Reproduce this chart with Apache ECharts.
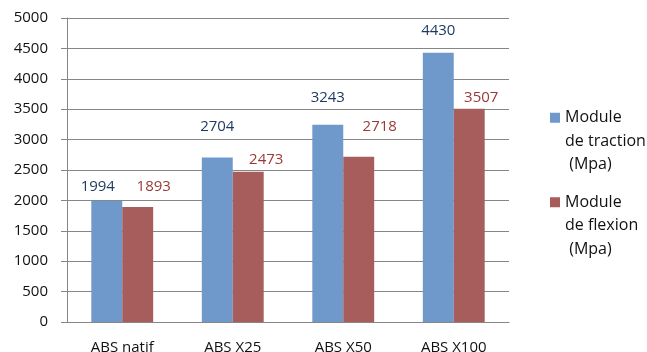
<!DOCTYPE html>
<html>
<head>
<meta charset="utf-8">
<script src="https://cdn.jsdelivr.net/npm/echarts@6/dist/echarts.min.js"></script>
<style>
  html, body { margin: 0; padding: 0; background: #fff; }
  #chart { width: 647px; height: 352px; }
</style>
</head>
<body>
<div id="chart"></div>
<script>
// data
var categories = ['ABS natif', 'ABS X25', 'ABS X50', 'ABS X100'];
var traction = [1994, 2704, 3243, 4430];
var flexion = [1893, 2473, 2718, 3507];
var seriesNames = ['Module\nde traction\n (Mpa)', 'Module\nde flexion\n (Mpa)'];

// label nudges (the labels were moved by hand in the original)
var tractionShift = [[-9, -2], [0, -18], [0, -15], [0, -9]];
var flexionShift = [[16, -8], [18, 1], [21, -18], [12, 1]];

var font = '"Open Sans", sans-serif';
var grey = '#868686';

function withLabels(values, shifts) {
    return values.map(function (v, i) {
        return {
            value: v,
            label: { offset: shifts[i] }
        };
    });
}

var myChart = echarts.init(document.getElementById('chart'));

var option = {
    backgroundColor: '#ffffff',
    animation: false,
    textStyle: { fontFamily: font },
    grid: { left: 67, right: 138, top: 18, bottom: 30, outerBoundsMode: 'none' },
    legend: {
        orient: 'vertical',
        left: 550,
        top: 59,
        padding: 0,
        itemWidth: 10,
        itemHeight: 10,
        itemGap: -33,
        icon: 'rect',
        // two blank lines on top so the square sits beside the first line
        formatter: function (name) {
            return '\n\n' + name;
        },
        textStyle: {
            fontFamily: font,
            fontSize: 16,
            lineHeight: 23.5,
            color: '#111'
        },
        data: seriesNames
    },
    xAxis: {
        type: 'category',
        data: categories,
        axisLine: { lineStyle: { color: grey } },
        axisTick: { length: 6, lineStyle: { color: grey } },
        axisLabel: { fontFamily: font, fontSize: 15, color: '#111', margin: 18 }
    },
    yAxis: {
        type: 'value',
        min: 0,
        max: 5000,
        interval: 500,
        axisLine: { show: true, lineStyle: { color: grey } },
        axisTick: { show: true, length: 6, lineStyle: { color: grey } },
        splitLine: { lineStyle: { color: grey } },
        axisLabel: {
            fontFamily: font,
            fontSize: 15,
            color: '#111',
            margin: 19,
            formatter: function (v) { return String(v); }
        }
    },
    series: [
        {
            name: seriesNames[0],
            type: 'bar',
            barGap: 0,
            barCategoryGap: '44%',
            itemStyle: { color: '#7099CB' },
            label: {
                show: true,
                position: 'top',
                distance: 5,
                fontFamily: font,
                fontSize: 15,
                color: '#1F3B63'
            },
            data: withLabels(traction, tractionShift)
        },
        {
            name: seriesNames[1],
            type: 'bar',
            barGap: 0,
            barCategoryGap: '44%',
            itemStyle: { color: '#A65D5B' },
            label: {
                show: true,
                position: 'top',
                distance: 5,
                fontFamily: font,
                fontSize: 15,
                color: '#9A3A38'
            },
            data: withLabels(flexion, flexionShift)
        }
    ]
};

myChart.setOption(option);
</script>
</body>
</html>
